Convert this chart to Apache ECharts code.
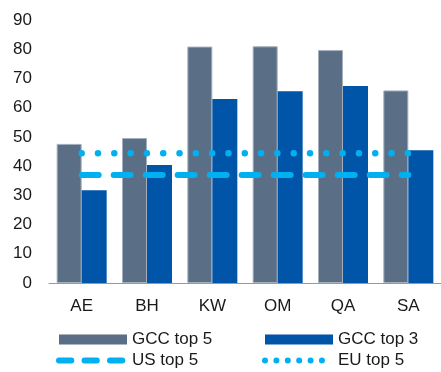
<!DOCTYPE html>
<html>
<head>
<meta charset="utf-8">
<script src="https://cdn.jsdelivr.net/npm/echarts@6/dist/echarts.min.js"></script>
<style>
  html, body { margin: 0; padding: 0; background: #fff; }
  #chart { width: 441px; height: 372px; }
</style>
</head>
<body>
<div id="chart"></div>
<script>
// Country codes on the category axis
const categories = ['AE', 'BH', 'KW', 'OM', 'QA', 'SA'];
// Bar series
const gccTop5 = [47.6, 49.6, 80.9, 81.0, 79.7, 65.9];
const gccTop3 = [31.7, 40.4, 63.0, 65.6, 67.4, 45.4];
// Reference levels drawn as flat lines across all countries
const usTop5 = [37.0, 37.0, 37.0, 37.0, 37.0, 37.0];
const euTop5 = [44.4, 44.4, 44.4, 44.4, 44.4, 44.4];
// Value axis ticks
const yTicks = [0, 10, 20, 30, 40, 50, 60, 70, 80, 90];

const FONT = 'Liberation Sans, Arial, sans-serif';
const TEXT = '#1a1a1a';
const LIGHT_BLUE = '#00b0f0';

const chart = echarts.init(document.getElementById('chart'), null, { renderer: 'canvas' });

const legendText = { fontFamily: FONT, fontSize: 17, color: TEXT, lineHeight: 17 };
// Line legend entries show only the stroke pattern, no centre marker
const hiddenMarker = { opacity: 0, borderWidth: 0 };

chart.setOption({
  animation: false,
  grid: { left: 49, top: 20, width: 398, bottom: 89, containLabel: false },
  xAxis: {
    type: 'category',
    data: categories,
    axisTick: { show: false },
    axisLine: { lineStyle: { color: '#999', width: 1 } },
    axisLabel: { fontFamily: FONT, fontSize: 17, color: TEXT, margin: 15 }
  },
  yAxis: {
    type: 'value',
    min: yTicks[0],
    max: yTicks[yTicks.length - 1],
    interval: yTicks[1] - yTicks[0],
    splitLine: { show: false },
    axisLine: { show: false },
    axisTick: { show: false },
    axisLabel: { fontFamily: FONT, fontSize: 17, color: TEXT, margin: 17 }
  },
  legend: [
    {
      orient: 'vertical',
      left: 56,
      top: 331,
      height: 60,
      padding: 0,
      itemWidth: 68,
      itemHeight: 10,
      itemGap: 4,
      textStyle: legendText,
      data: [
        { name: 'GCC top 5', icon: 'rect', itemStyle: { borderWidth: 0 } },
        { name: 'US top 5', itemStyle: hiddenMarker, lineStyle: { width: 6, type: [12.3, 13.2], cap: 'round', color: LIGHT_BLUE } }
      ]
    },
    {
      orient: 'vertical',
      left: 262,
      top: 331,
      height: 60,
      padding: 0,
      itemWidth: 68,
      itemHeight: 10,
      itemGap: 4,
      textStyle: legendText,
      data: [
        { name: 'GCC top 3', icon: 'rect', itemStyle: { borderWidth: 0 } },
        { name: 'EU top 5', itemStyle: hiddenMarker, lineStyle: { width: 6, type: [0.01, 11.38], cap: 'round', color: LIGHT_BLUE } }
      ]
    }
  ],
  series: [
    {
      name: 'GCC top 5',
      type: 'bar',
      data: gccTop5,
      barWidth: 25,
      barGap: '0%',
      itemStyle: { color: '#5a6f86', borderColor: '#a3afbc', borderWidth: 1 }
    },
    {
      name: 'GCC top 3',
      type: 'bar',
      data: gccTop3,
      barWidth: 25,
      barGap: '0%',
      itemStyle: { color: '#0055a9' }
    },
    {
      name: 'US top 5',
      type: 'line',
      data: usTop5,
      showSymbol: false,
      symbol: 'none',
      z: 5,
      itemStyle: { color: LIGHT_BLUE },
      lineStyle: { color: LIGHT_BLUE, width: 6, type: [17, 15], cap: 'round' }
    },
    {
      name: 'EU top 5',
      type: 'line',
      data: euTop5,
      showSymbol: false,
      symbol: 'none',
      z: 5,
      itemStyle: { color: LIGHT_BLUE },
      lineStyle: { color: LIGHT_BLUE, width: 6.5, type: [0.01, 16.3], cap: 'round' }
    }
  ]
});
</script>
</body>
</html>
